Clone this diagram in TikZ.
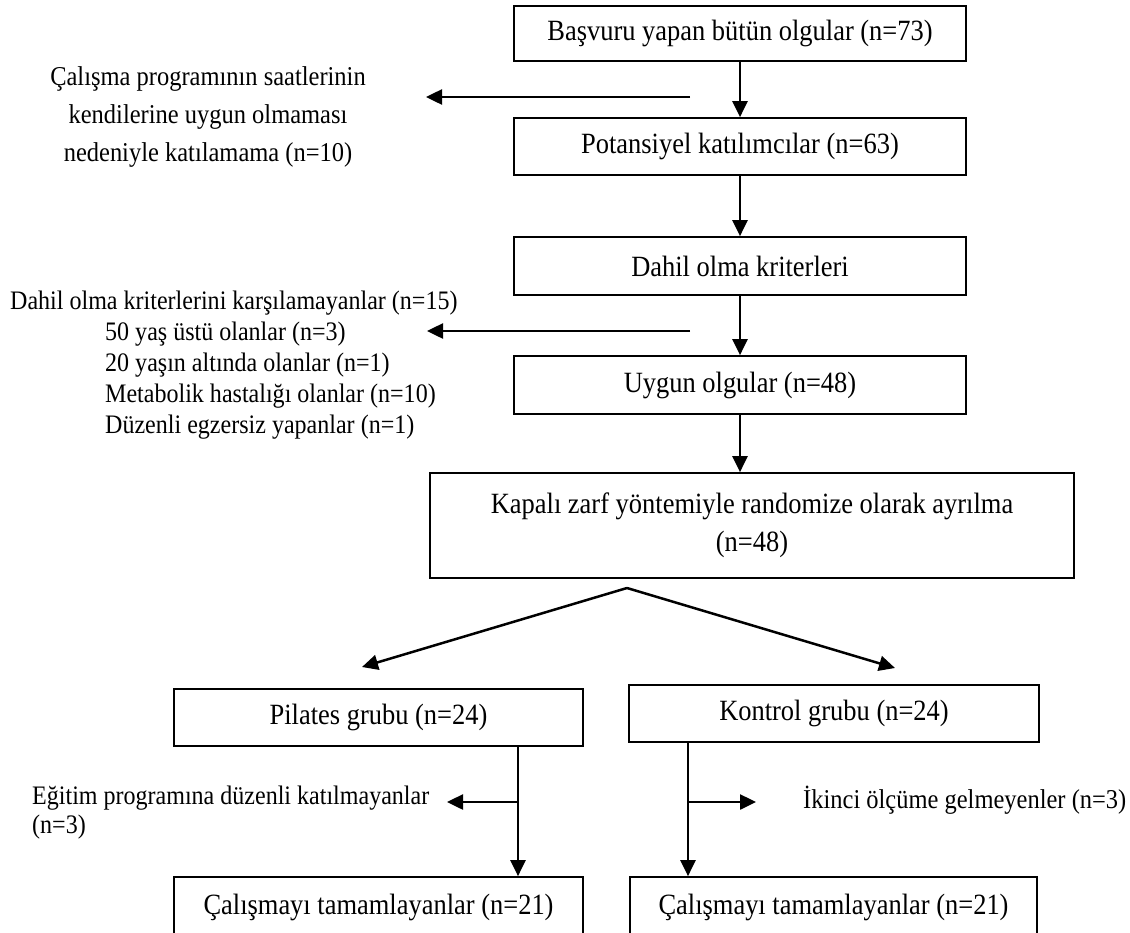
\documentclass[tikz,border=0pt]{standalone}
\usepackage{fontspec}
\setmainfont[FakeStretch=0.9]{Liberation Serif}
\usetikzlibrary{arrows.meta}
\begin{document}
\begin{tikzpicture}[x=1pt,y=-1pt,
  box/.style={draw, line width=1.7pt, inner sep=0pt, align=center, font=\fontsize{29.4}{38}\selectfont},
  side/.style={inner sep=0pt, font=\fontsize{26.7}{31}\selectfont},
  arr/.style={line width=2.5pt, -{Triangle[length=16pt,width=15pt]}}]
\useasboundingbox (0,0) rectangle (1130,932);
% main column
\node[box, minimum width=452pt, minimum height=55pt] (b1) at (740,33.5) {Başvuru yapan bütün olgular (n=73)};
\node[box, minimum width=452pt, minimum height=57pt] (b2) at (740,146.5) {Potansiyel katılımcılar (n=63)};
\node[box, minimum width=452pt, minimum height=58pt] (b3) at (740,266) {Dahil olma kriterleri};
\node[box, minimum width=452pt, minimum height=58pt] (b4) at (740,385) {Uygun olgular (n=48)};
\node[box, minimum width=644pt, minimum height=105pt] (b5) at (752,525.5) {Kapalı zarf yöntemiyle randomize olarak ayrılma\\(n=48)};
\node[box, minimum width=409pt, minimum height=57pt] (pil) at (378.5,717.5) {Pilates grubu (n=24)};
\node[box, minimum width=410pt, minimum height=57pt] (kon) at (834,713.5) {Kontrol grubu (n=24)};
\node[box, minimum width=409pt, minimum height=60pt] (bl) at (378.5,907) {Çalışmayı tamamlayanlar (n=21)};
\node[box, minimum width=407pt, minimum height=60pt] (br) at (833.5,907) {Çalışmayı tamamlayanlar (n=21)};
% side texts
\node[side, align=center, font=\fontsize{27.2}{38}\selectfont] (t1) at (208,117) {Çalışma programının saatlerinin\\kendilerine uygun olmaması\\nedeniyle katılamama (n=10)};
\node[side, anchor=west] (t2) at (10,303) {Dahil olma kriterlerini karşılamayanlar (n=15)};
\node[side, anchor=west, align=left] (t3) at (105,381) {50 yaş üstü olanlar (n=3)\\20 yaşın altında olanlar (n=1)\\Metabolik hastalığı olanlar (n=10)\\Düzenli egzersiz yapanlar (n=1)};
\node[side, anchor=west, align=left, font=\fontsize{26.7}{29}\selectfont] (t4) at (32,813) {Eğitim programına düzenli katılmayanlar\\(n=3)};
\node[side, anchor=west, font=\fontsize{27.2}{29}\selectfont] (t5) at (803,800) {İkinci ölçüme gelmeyenler (n=3)};
% coordinates
\coordinate (l1s) at (690,97);
\coordinate (l1e) at (426,97);
\coordinate (l2s) at (690,331);
\coordinate (l2e) at (427,331);
\coordinate (apex) at (627,588);
\coordinate (lt) at (362,667);
\coordinate (rt) at (895,668);
\coordinate (pl) at (518,0);
\coordinate (kl) at (688,0);
\coordinate (pls) at (518,802);
\coordinate (ple) at (447,802);
\coordinate (kls) at (688,802);
\coordinate (kle) at (756,802);
% connectors
\draw[arr] (b1) -- (b2);
\draw[arr] (b2) -- (b3);
\draw[arr] (b3) -- (b4);
\draw[arr] (b4.south) -- (b4.south |- b5.north);
\draw[arr] (l1s) -- (l1e);
\draw[arr] (l2s) -- (l2e);
\draw[arr] (apex) -- (lt);
\draw[arr] (apex) -- (rt);
\draw[arr] (pil.south -| pl) -- (bl.north -| pl);
\draw[arr] (kon.south -| kl) -- (br.north -| kl);
\draw[arr] (pls) -- (ple);
\draw[arr] (kls) -- (kle);
\end{tikzpicture}
\end{document}
